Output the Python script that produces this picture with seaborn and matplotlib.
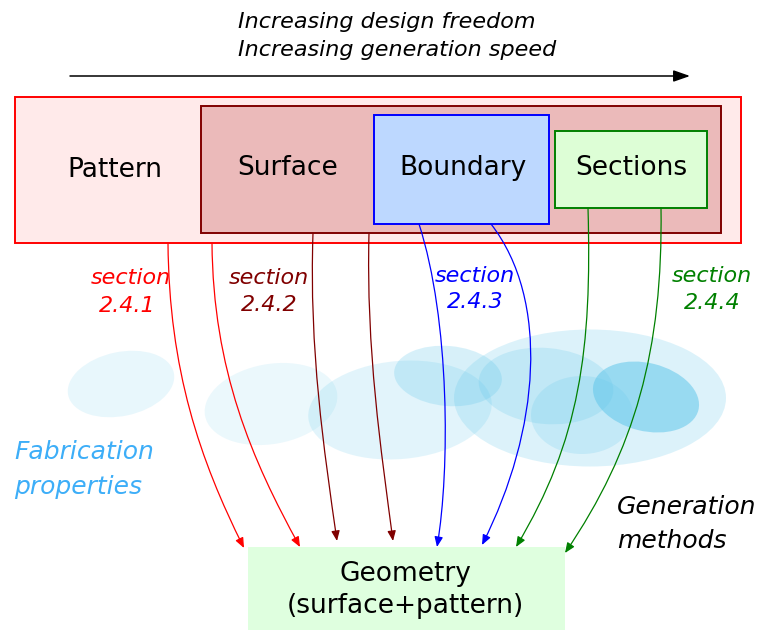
import matplotlib
matplotlib.use("Agg")
import matplotlib.pyplot as plt
import seaborn as sns
from matplotlib.patches import Rectangle, Ellipse, FancyArrowPatch
from matplotlib.path import Path

sns.set_theme(style="white")
plt.rcParams['font.family'] = ['DejaVu Sans']
plt.rcParams['text.color'] = 'black'

# ---- data (texts) ----
top_lines = ["Increasing design freedom", "Increasing generation speed"]
box_labels = ["Pattern", "Surface", "Boundary", "Sections"]
section_words = ["section", "section", "section", "section"]
section_numbers = ["2.4.1", "2.4.2", "2.4.3", "2.4.4"]
fab_lines = ["Fabrication", "properties"]
gen_lines = ["Generation", "methods"]
geom_lines = ["Geometry", "(surface+pattern)"]

# ---- layout (pixel coordinates, y downward) ----
box_rects = [(15, 97, 726, 146), (201, 106, 520, 127), (374, 115, 175, 109), (555, 131, 152, 77)]
box_faces = ["#ffeaea", "#ebbaba", "#bdd8ff", "#ddfed6"]
box_edges = ["#ff0000", "#800000", "#0000ff", "#008000"]
box_text_xy = [(115, 170), (288, 168), (463, 168), (631, 168)]
section_colors = ["#ff0000", "#800000", "#0000ff", "#008000"]
section_xy = [(131, 278), (269, 278), (475, 276), (712, 276)]
section_num_xy = [(127, 306), (269, 305), (475, 302), (712, 303)]

blobs = [  # cx, cy, w, h, angle, alpha
    (121, 384, 108, 64, -12, 0.14),
    (271, 404, 134, 80, -10, 0.12),
    (400, 410, 184, 98, -5, 0.18),
    (448, 376, 108, 60, 5, 0.25),
    (590, 398, 272, 137, 0, 0.22),
    (546, 386, 135, 76, 5, 0.22),
    (582, 415, 102, 78, 0, 0.20),
    (646, 397, 108, 68, 14, 0.55),
]
blob_rgb = (0.38, 0.78, 0.92)

curves = [  # P0, P1, P2, P3, color
    ((168, 243), (169, 370), (200, 460), (244, 548), "#ff0000"),
    ((212, 243), (213, 370), (252, 460), (300, 547), "#ff0000"),
    ((313, 233), (309, 350), (324, 450), (337, 541), "#800000"),
    ((369, 233), (366, 350), (381, 450), (393, 541), "#800000"),
    ((419, 224), (450, 320), (450, 470), (437, 547), "#0000ff"),
    ((491, 224), (550, 300), (540, 430), (482, 545), "#0000ff"),
    ((588, 208), (592, 350), (580, 440), (516, 547), "#008000"),
    ((661, 208), (663, 350), (635, 450), (565, 553), "#008000"),
]

fig = plt.figure(figsize=(7.58, 6.3), dpi=100)
ax = fig.add_axes([0, 0, 1, 1])
ax.set_xlim(0, 758)
ax.set_ylim(630, 0)
ax.axis("off")

# top arrow + text
ax.annotate("", xy=(690, 76), xytext=(70, 76),
            arrowprops=dict(arrowstyle="-|>,head_length=1.0,head_width=0.35",
                            mutation_scale=10, lw=1.1, color="black",
                            shrinkA=0, shrinkB=0))
for i, t in enumerate(top_lines):
    ax.text(238, 22 + 28 * i, t, fontsize=16, style="italic", color="black",
            ha="left", va="center")

# boxes
for (x, y, w, h), fc, ec in zip(box_rects, box_faces, box_edges):
    ax.add_patch(Rectangle((x, y), w, h, facecolor=fc, edgecolor=ec, lw=1.4, zorder=2))
for (x, y), t in zip(box_text_xy, box_labels):
    ax.text(x, y, t, fontsize=19, color="black", ha="center", va="center", zorder=3)

# blobs
for cx, cy, w, h, ang, a in blobs:
    ax.add_patch(Ellipse((cx, cy), w, h, angle=ang, facecolor=blob_rgb, alpha=a,
                         edgecolor="none", zorder=1))

# section labels
for (x, y), (xn, yn), w, n, c in zip(section_xy, section_num_xy, section_words,
                                      section_numbers, section_colors):
    ax.text(x, y, w, fontsize=16, style="italic", color=c, ha="center", va="center", zorder=3)
    ax.text(xn, yn, n, fontsize=16, style="italic", color=c, ha="center", va="center", zorder=3)

# geometry box
ax.add_patch(Rectangle((248, 547), 317, 90, facecolor="#dfffdf", edgecolor="none", zorder=2))
ax.text(405, 574, geom_lines[0], fontsize=19, color="black", ha="center", va="center", zorder=3)
ax.text(405, 606, geom_lines[1], fontsize=19, color="black", ha="center", va="center", zorder=3)

# curved arrows
for p0, p1, p2, p3, c in curves:
    path = Path([p0, p1, p2, p3], [Path.MOVETO, Path.CURVE4, Path.CURVE4, Path.CURVE4])
    arr = FancyArrowPatch(path=path, arrowstyle="-|>,head_length=0.6,head_width=0.25",
                          mutation_scale=10, lw=0.9, color=c, shrinkA=0, shrinkB=0,
                          transform=ax.transData, zorder=4)
    ax.add_patch(arr)

# side texts
for i, t in enumerate(fab_lines):
    ax.text(14, 452 + 35 * i, t, fontsize=18, style="italic", color="#3daef8",
            ha="left", va="center")
for i, t in enumerate(gen_lines):
    ax.text(617, 507 + 34 * i, t, fontsize=18, style="italic", color="black",
            ha="left", va="center")

fig.savefig("out.png", dpi=100)
